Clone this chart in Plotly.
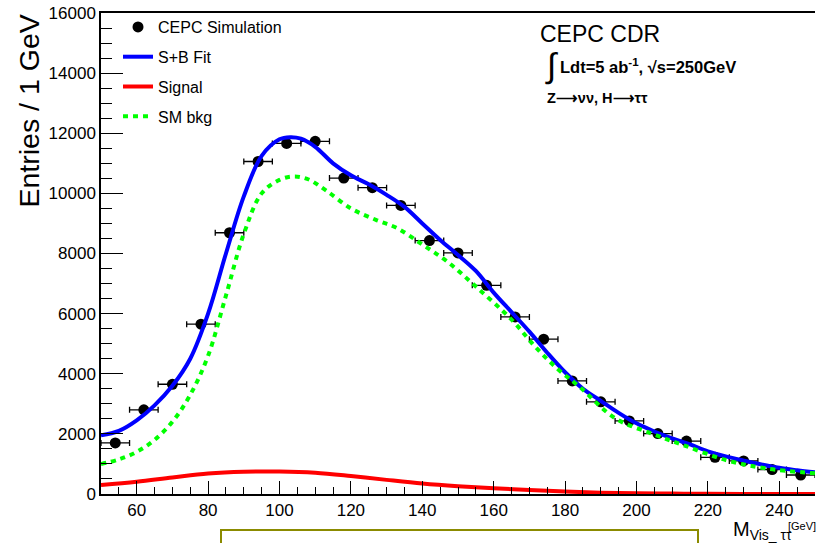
import plotly.graph_objects as go

# ---- data ----
data_x = [54, 62, 70, 78, 86, 94, 102, 110, 118, 126, 134, 142, 150,
          158, 166, 174, 182, 190, 198, 206, 214, 222, 230, 238, 246]
data_y = [1700, 2800, 3650, 5650, 8690, 11060, 11660, 11730, 10510, 10190,
          9600, 8430, 8020, 6940, 5890, 5150, 3760, 3065, 2430, 2010,
          1760, 1220, 1100, 815, 632]
data_xerr = [4] * len(data_x)

fit_x = [50, 55, 60, 65, 70, 75, 80, 85, 90, 95, 100, 103, 106, 110, 115,
         120, 125, 130, 135, 140, 145, 150, 155, 160, 165, 170, 175, 180,
         185, 190, 195, 200, 205, 210, 215, 220, 225, 230, 235, 240, 245, 250]
fit_y = [1950, 2100, 2450, 2950, 3600, 4500, 6000, 8000, 9900, 11250, 11800,
         11870, 11820, 11550, 11000, 10600, 10300, 9950, 9550, 9000, 8450,
         7950, 7420, 6700, 6050, 5400, 4700, 4050, 3500, 3100, 2700, 2350,
         2080, 1850, 1650, 1420, 1250, 1110, 980, 870, 790, 720]

sig_x = [50, 60, 70, 80, 90, 100, 110, 120, 130, 140, 150, 160, 170, 180,
         190, 200, 210, 220, 235, 250]
sig_y = [300, 410, 550, 680, 740, 750, 710, 600, 470, 350, 260, 190, 130,
         80, 45, 25, 15, 5, 0, 0]

bkg_x = [50, 55, 60, 65, 70, 75, 80, 85, 90, 95, 100, 104, 108, 113, 120,
         127, 133, 140, 147, 155, 165, 172, 178, 184, 194, 204, 213, 225,
         236, 250]
bkg_y = [1000, 1150, 1400, 1800, 2400, 3300, 4600, 6600, 8650, 10000, 10450,
         10560, 10470, 10100, 9500, 9120, 8840, 8300, 7730, 6900, 5800, 4850,
         4150, 3570, 2520, 2020, 1630, 1130, 855, 690]

FONT = "Liberation Sans, Arial, Helvetica, sans-serif"

fig = go.Figure()

fig.add_trace(go.Scatter(
    x=data_x, y=data_y, mode="markers", name="CEPC Simulation",
    marker=dict(color="black", size=11, symbol="circle"),
    error_x=dict(type="data", array=data_xerr, visible=True,
                 color="black", thickness=1.3, width=3),
    legendgroup="a", legendrank=1))

fig.add_trace(go.Scatter(
    x=fit_x, y=fit_y, mode="lines", name="S+B Fit",
    line=dict(color="#0000ff", width=4, shape="spline"),
    legendgroup="b", legendrank=2))

fig.add_trace(go.Scatter(
    x=sig_x, y=sig_y, mode="lines", name="Signal",
    line=dict(color="#ff0000", width=4, shape="spline"),
    legendgroup="c", legendrank=3))

fig.add_trace(go.Scatter(
    x=bkg_x, y=bkg_y, mode="lines", name="SM bkg",
    line=dict(color="#00ff00", width=4, shape="spline", dash="5px,5px"),
    legendgroup="d", legendrank=4))

W, H = 819, 543
L, R, T, B = 101, 4, 13, 49
pw = W - L - R
ph = H - T - B

def px(xp):
    return (xp - L) / pw

def py(yp):
    return (H - B - yp) / ph

fig.update_layout(
    width=W, height=H,
    margin=dict(l=L, r=R, t=T, b=B),
    paper_bgcolor="white", plot_bgcolor="white",
    font=dict(family=FONT, color="black"),
    showlegend=True,
    legend=dict(x=px(118), y=py(10), xanchor="left", yanchor="top",
                bgcolor="rgba(0,0,0,0)", borderwidth=0,
                font=dict(size=16, family=FONT),
                traceorder="grouped", tracegroupgap=6,
                itemwidth=30),
    xaxis=dict(range=[50, 250], dtick=20, tick0=0,
               showgrid=False, zeroline=False,
               showline=True, linecolor="black", linewidth=1.5, mirror=True,
               ticks="inside", ticklen=13, tickwidth=1, tickcolor="black",
               minor=dict(dtick=5, ticklen=7, ticks="inside",
                          tickcolor="black", tickwidth=1),
               tickfont=dict(size=17, family=FONT)),
    yaxis=dict(range=[0, 16000], dtick=2000, tick0=0, tickformat="d",
               showgrid=False, zeroline=False,
               showline=True, linecolor="black", linewidth=1.5,
               ticks="inside", ticklen=22, tickwidth=1, tickcolor="black",
               minor=dict(dtick=500, ticklen=11, ticks="inside",
                          tickcolor="black", tickwidth=1),
               tickfont=dict(size=17, family=FONT)),
)

ann = [
    dict(text="Entries / 1 GeV", x=px(28), y=py(13), xanchor="center",
         yanchor="top", textangle=-90, font=dict(size=28.5)),
    dict(text="CEPC CDR", x=px(538), y=py(34), xanchor="left",
         yanchor="middle", font=dict(size=23)),
    dict(text="∫", x=px(543), y=py(65), xanchor="left",
         yanchor="middle", font=dict(size=34)),
    dict(text="<b>Ldt=5 ab<sup>-1</sup>, √s=250GeV</b>", x=px(558),
         y=py(66), xanchor="left", yanchor="middle", font=dict(size=16.5)),
    dict(text="<b>Z⟶νν, H⟶ττ</b>", x=px(545), y=py(98), xanchor="left",
         yanchor="middle", font=dict(size=14.5)),
    dict(text="M<sub>Vis_ ττ</sub>", x=px(731), y=py(530), xanchor="left",
         yanchor="middle", font=dict(size=20)),
    dict(text="[GeV]", x=px(786), y=py(526), xanchor="left",
         yanchor="middle", font=dict(size=11)),
]
for a in ann:
    a.update(xref="paper", yref="paper", showarrow=False)
fig.update_layout(annotations=ann)

fig.add_shape(type="rect", xref="paper", yref="paper",
              x0=px(221), x1=px(698), y0=py(530), y1=py(580),
              line=dict(color="#8b8b00", width=2), fillcolor="rgba(0,0,0,0)")

fig.write_html("out.html")
